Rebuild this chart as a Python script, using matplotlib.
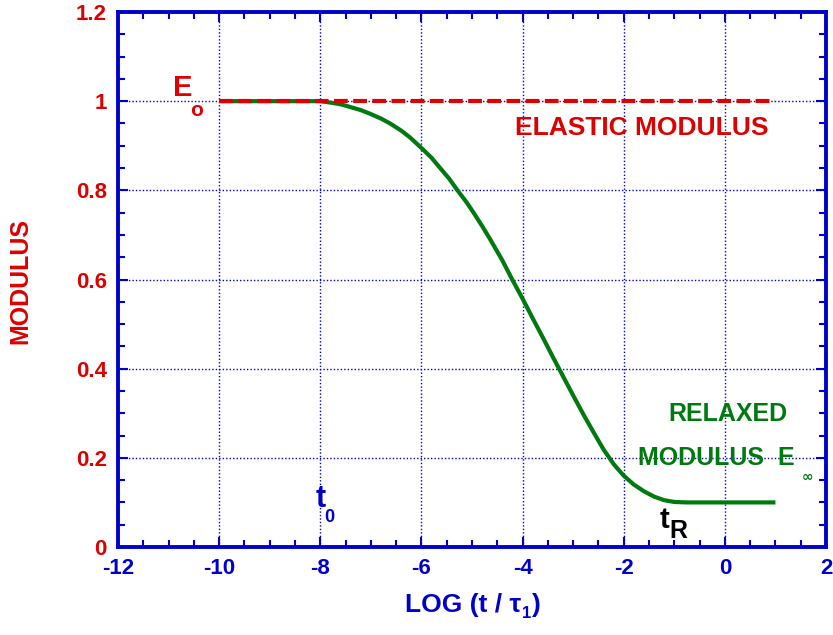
import numpy as np
import matplotlib
matplotlib.use("Agg")
import matplotlib.pyplot as plt
from matplotlib.ticker import MultipleLocator

plt.rcParams['font.family'] = ['Liberation Sans', 'DejaVu Sans']
plt.rcParams['font.weight'] = 'bold'
plt.rcParams['axes.unicode_minus'] = False

# values
log_t = [-10, -9, -8, -7.81, -7.6, -7.41, -7.2, -7.02, -6.8, -6.62, -6.4, -6.23,
         -6.0, -5.8, -5.63, -5.45, -5.3, -5.1, -4.97, -4.8, -4.64, -4.4, -4.21,
         -4.0, -3.8, -3.6, -3.4, -3.2, -3.0, -2.8, -2.6, -2.4, -2.2, -2.0, -1.8,
         -1.6, -1.4, -1.2, -1.0, -0.75, 0, 1]
relax_mod = [1.0, 1.0, 1.0, 0.997, 0.993, 0.987, 0.980, 0.972, 0.961, 0.950, 0.934,
             0.919, 0.895, 0.873, 0.850, 0.826, 0.802, 0.772, 0.750, 0.720, 0.690,
             0.643, 0.601, 0.557, 0.513, 0.470, 0.426, 0.383, 0.340, 0.298, 0.258,
             0.219, 0.186, 0.160, 0.140, 0.125, 0.113, 0.105, 0.101, 0.1, 0.1, 0.1]
elastic_x = [-10, 1]
elastic_y = [1.0, 1.0]

red = '#dc0000'
green = '#007a10'
blue = '#0000cc'

fig = plt.figure(figsize=(8.33, 6.35), dpi=100)
ax = fig.add_axes([118/833, 1-547/635, (826-118)/833, (547-12)/635])

ax.plot(log_t, relax_mod, color=green, lw=3, solid_capstyle='butt',
        solid_joinstyle='round', zorder=3)
ax.plot(elastic_x, elastic_y, color=red, lw=3, dashes=(3.3, 1.3), zorder=4)

ax.set_xlim(-12, 2)
ax.set_ylim(0, 1.2)
ax.xaxis.set_major_locator(MultipleLocator(2))
ax.xaxis.set_minor_locator(MultipleLocator(0.5))
ax.yaxis.set_minor_locator(MultipleLocator(0.05))
ax.set_yticks([0, 0.2, 0.4, 0.6, 0.8, 1, 1.2])
ax.set_yticklabels(['0', '0.2', '0.4', '0.6', '0.8', '1', '1.2'])

ax.grid(True, which='major', color=blue, linestyle=(0, (1, 1.5)), lw=1, zorder=1)
for s in ax.spines.values():
    s.set_color(blue)
    s.set_linewidth(2.8)
ax.tick_params(which='both', direction='in', top=True, right=True, color=blue, width=1.5)
ax.tick_params(which='major', length=7)
ax.tick_params(which='minor', length=5)
ax.tick_params(axis='x', labelcolor=blue, labelsize=16, pad=8)
ax.tick_params(axis='y', labelcolor=red, labelsize=16, pad=8)

fig.text(20/833, 1-281/635, 'MODULUS', rotation=90, color=red, fontsize=18,
         fontweight='bold', ha='center', va='center')

# x label built in pieces: LOG (t / tau, subscript 1, )
xl = fig.text(405/833, 1-605/635, 'LOG (t / \u03c4', color=blue, fontsize=19,
              ha='left', va='center')
fig.canvas.draw()
bb = xl.get_window_extent()
sub = fig.text((bb.x1 + 1)/833, (bb.y0 - 4)/635, '1', color=blue, fontsize=12,
               ha='left', va='bottom')
fig.canvas.draw()
bb2 = sub.get_window_extent()
fig.text((bb2.x1 + 1)/833, 1-605/635, ')', color=blue, fontsize=19,
         ha='left', va='center')

# annotations
ax.text(-10.72, 1.03, 'E', color=red, fontsize=21, ha='center', va='center')
ax.text(-10.45, 0.978, 'o', color=red, fontsize=15, ha='center', va='center')
ax.text(-1.65, 0.94, 'ELASTIC MODULUS', color=red, fontsize=19, ha='center', va='center')
ax.text(0.06, 0.298, 'RELAXED', color=green, fontsize=18, ha='center', va='center')
ax.text(-0.17, 0.20, 'MODULUS  E', color=green, fontsize=18, ha='center', va='center')
ax.text(1.62, 0.16, r'$\infty$', color=green, fontsize=10, ha='center', va='center')
ax.text(-8.0, 0.108, 't', color=blue, fontsize=22, ha='center', va='center')
ax.text(-7.83, 0.066, '0', color=blue, fontsize=13, ha='center', va='center')
ax.text(-1.2, 0.06, 't', color='black', fontsize=21, ha='center', va='center')
ax.text(-0.92, 0.036, 'R', color='black', fontsize=18, ha='center', va='center')

fig.savefig('out.png', dpi=100)
